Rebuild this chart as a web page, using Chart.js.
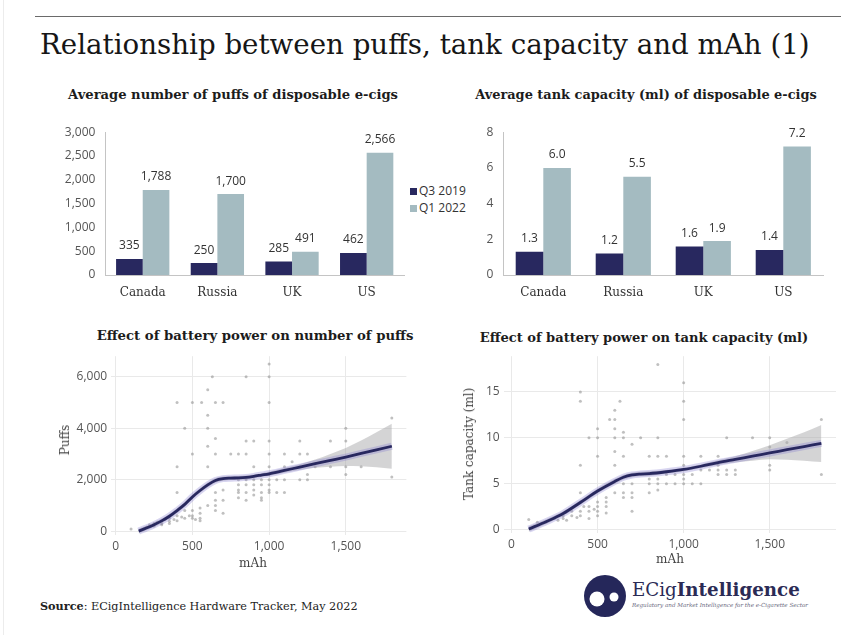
<!DOCTYPE html>
<html>
<head>
<meta charset="utf-8">
<script src="https://cdn.jsdelivr.net/npm/chart.js@4.4.1/dist/chart.umd.min.js"></script>
<style>
  html, body { margin: 0; padding: 0; background: #fff; }
  body { width: 841px; height: 635px; position: relative; overflow: hidden; font-family: "DejaVu Serif", serif; color: #222; }
  canvas { position: absolute; }
  .txt { position: absolute; white-space: nowrap; line-height: 1; }
  .c { transform: translate(-50%, -50%); }
  .l { transform: translate(0, -50%); }
  .rot { transform: translate(-50%, -50%) rotate(-90deg); }
  .rule { position: absolute; left: 35px; top: 16px; width: 806px; height: 0; border-top: 1.5px solid #6a6a6a; }
  .edge { position: absolute; left: 3px; top: 0; width: 0; height: 635px; border-left: 1px solid #ececec; }
  .key { position: absolute; width: 7px; height: 7px; }
</style>
</head>
<body>
<div class="edge"></div>
<div class="rule"></div>

<div id="mainTitle" class="txt l" data-w="770" style="left:40px; top:45px; font-size:30px; color:#161616;">Relationship between puffs, tank capacity and mAh (1)</div>

<div class="txt c" data-w="330" style="left:233px; top:95px; font-size:13px; font-weight:bold; color:#1c1c1c;">Average number of puffs of disposable e-cigs</div>
<div class="txt c" data-w="342" style="left:646px; top:95px; font-size:13px; font-weight:bold; color:#1c1c1c;">Average tank capacity (ml) of disposable e-cigs</div>
<div class="txt c" data-w="317" style="left:255px; top:336px; font-size:13px; font-weight:bold; color:#1c1c1c;">Effect of battery power on number of puffs</div>
<div class="txt c" data-w="329" style="left:644px; top:338px; font-size:13px; font-weight:bold; color:#1c1c1c;">Effect of battery power on tank capacity (ml)</div>

<!-- legend shared by the two bar charts -->
<div id="legend"></div>

<canvas id="puffBars" width="370" height="195" style="left:40px; top:115px;"></canvas>
<canvas id="tankBars" width="395" height="195" style="left:440px; top:115px;"></canvas>
<canvas id="puffScatter" width="380" height="225" style="left:40px; top:345px;"></canvas>
<canvas id="tankScatter" width="400" height="225" style="left:440px; top:345px;"></canvas>

<div class="txt c" style="left:253px; top:563px; font-size:12px; color:#444;">mAh</div>
<div class="txt c" style="left:670px; top:559px; font-size:12px; color:#444;">mAh</div>
<div class="txt rot" style="left:65px; top:440px; font-size:12px; color:#444;">Puffs</div>
<div class="txt rot" style="left:469px; top:444px; font-size:12px; color:#444;">Tank capacity (ml)</div>

<div class="txt l" data-w="318" style="left:40px; top:607px; font-size:11px; color:#222;"><b>Source</b>: ECigIntelligence Hardware Tracker, May 2022</div>

<svg style="position:absolute; left:580px; top:570px;" width="52" height="52" viewBox="0 0 52 52">
  <circle cx="25" cy="26" r="21" fill="#25275a"/>
  <circle cx="17" cy="29" r="7.5" fill="#fff"/>
  <circle cx="34" cy="27" r="4.5" fill="#fff"/>
</svg>
<div class="txt l" data-w="168" style="left:632px; top:590px; font-size:17px; color:#2b2b55;">ECig<b>Intelligence</b></div>
<div class="txt l" data-w="176" style="left:632px; top:606px; font-size:6px; font-style:italic; color:#6a6a80;">Regulatory and Market Intelligence for the e-Cigarette Sector</div>

<script>
// ---- bar chart data ----
const countries = ['Canada', 'Russia', 'UK', 'US'];
const seriesNames = ['Q3 2019', 'Q1 2022'];
const puffsQ3_2019 = [335, 250, 285, 462];
const puffsQ1_2022 = [1788, 1700, 491, 2566];
const tankQ3_2019 = [1.3, 1.2, 1.6, 1.4];
const tankQ1_2022 = [6.0, 5.5, 1.9, 7.2];

// ---- tick values ----
const puffBarTicks = [0, 500, 1000, 1500, 2000, 2500, 3000];
const tankBarTicks = [0, 2, 4, 6, 8];
const mahTicks = [0, 500, 1000, 1500];
const puffTicks = [0, 2000, 4000, 6000];
const tankTicks = [0, 5, 10, 15];

// ---- scatter data: [mAh, puffs] ----
const puffPoints = [
  [100,80],[200,150],[220,250],[250,300],[250,200],[270,350],[300,400],[300,300],[300,250],[320,450],
  [350,500],[350,380],[350,300],[380,450],[400,600],[400,400],[400,1500],[400,2500],[400,5000],[430,550],
  [450,800],[450,500],[450,4000],[480,600],[500,800],[500,500],[500,600],[500,3000],[500,5000],[520,450],
  [550,900],[550,700],[550,500],[550,400],[560,5000],[600,1000],[600,2500],[600,3300],[600,4000],[600,4500],
  [600,5500],[630,6000],[650,1500],[650,1200],[650,1000],[650,800],[650,3000],[650,3600],[650,5000],
  [700,1600],[700,1200],[700,700],[700,5000],[750,3000],[800,3000],[800,2000],[800,1800],[800,1600],
  [800,1500],[800,1300],[850,6000],[850,3500],[850,3000],[850,2000],[850,1800],[850,1500],[850,1200],
  [900,3500],[900,2500],[900,2000],[900,1800],[900,1600],[900,1400],[950,2000],[950,1800],[950,1500],
  [950,1300],[950,1200],[1000,6500],[1000,6000],[1000,5000],[1000,3500],[1000,3000],[1000,2500],
  [1000,2200],[1000,2000],[1000,1800],[1000,1600],[1000,1500],[1050,2000],[1050,1500],[1100,3000],
  [1100,2500],[1100,2000],[1100,1500],[1150,2700],[1200,3500],[1200,3000],[1200,2500],[1200,2000],
  [1250,3000],[1250,2200],[1250,2000],[1300,2500],[1400,3500],[1400,2500],[1500,4000],[1500,3500],
  [1500,2500],[1500,2200],[1600,2500],[1800,4400],[1800,2100]
];
// ---- scatter data: [mAh, tank ml] ----
const tankPoints = [
  [100,1.1],[150,0.8],[200,0.8],[250,1.2],[270,1.0],[300,1.5],[300,1.2],[320,1.0],[350,2.0],[350,1.5],
  [380,1.3],[400,3.0],[400,2.0],[400,1.5],[400,4.0],[400,7.0],[400,14.0],[400,15.0],[420,2.5],[450,2.5],
  [450,2.0],[450,1.2],[450,10.0],[480,2.2],[500,3.0],[500,2.5],[500,2.0],[500,1.5],[500,8.0],[500,10.0],
  [500,11.0],[550,3.5],[550,3.0],[550,2.5],[550,1.8],[570,12.0],[600,4.0],[600,7.0],[600,8.5],[600,10.0],
  [600,11.0],[600,12.0],[600,13.0],[630,14.0],[650,3.5],[650,4.0],[650,5.0],[650,8.0],[650,10.0],
  [650,10.6],[700,2.0],[700,3.5],[700,4.0],[700,5.0],[700,9.3],[750,10.0],[800,4.0],[800,5.0],[800,5.5],
  [800,8.0],[850,4.3],[850,5.0],[850,5.5],[850,8.0],[850,10.0],[850,18.0],[900,5.0],[900,6.0],[900,8.0],
  [950,5.0],[950,6.0],[1000,5.0],[1000,5.5],[1000,6.0],[1000,7.0],[1000,8.0],[1000,12.0],[1000,14.0],
  [1000,16.0],[1050,5.0],[1050,6.0],[1100,5.0],[1100,6.5],[1100,8.0],[1150,6.5],[1200,6.0],[1200,6.5],
  [1200,7.0],[1200,8.0],[1250,6.0],[1250,6.5],[1250,10.0],[1300,6.0],[1300,6.5],[1400,10.0],[1500,6.5],
  [1500,7.0],[1500,9.0],[1500,10.0],[1600,9.5],[1800,12.0],[1800,6.0]
];

// ---- smoothed trend with its confidence band ----
const puffFitMah   = [150,200,250,300,350,400,450,500,550,600,650,700,750,800,850,900,950,1000,1100,1200,1300,1400,1500,1600,1700,1800];
const puffFit      = [0,120,250,400,580,800,1040,1330,1580,1800,1970,2040,2060,2070,2090,2130,2180,2230,2360,2490,2620,2750,2880,3020,3160,3300];
const puffFitUpper = [90,210,340,490,670,890,1130,1420,1670,1890,2060,2120,2130,2140,2160,2200,2250,2310,2450,2600,2780,3000,3230,3520,3840,4170];
const puffFitLower = [-90,30,160,310,490,710,950,1240,1490,1710,1880,1960,1990,2000,2020,2060,2110,2150,2270,2380,2460,2500,2530,2520,2480,2430];

const tankFitMah   = [100,200,300,400,500,600,650,700,750,800,900,1000,1100,1200,1300,1400,1500,1600,1700,1800];
const tankFit      = [0.05,0.85,1.75,2.95,4.2,5.25,5.7,5.95,6.05,6.1,6.3,6.55,6.9,7.3,7.65,8.0,8.35,8.7,9.05,9.4];
const tankFitUpper = [0.35,1.1,2.0,3.2,4.45,5.5,5.95,6.2,6.3,6.35,6.5,6.75,7.1,7.55,8.0,8.55,9.2,9.9,10.6,11.4];
const tankFitLower = [-0.25,0.6,1.5,2.7,3.95,5.0,5.45,5.7,5.8,5.85,6.1,6.35,6.7,7.05,7.3,7.5,7.65,7.6,7.5,7.35];

// ---- palette ----
const NAVY = '#28285f';
const SLATE = '#a4bbc1';
const DOT = 'rgba(140,140,140,0.55)';
const BAND = 'rgba(170,170,172,0.5)';
const HALO = 'rgba(125,115,205,0.3)';
const GRID = '#e9e9e9';
const SANS = '"Open Sans", "DejaVu Sans", sans-serif';
const SERIF = '"DejaVu Serif", serif';

// fit HTML text elements to their intended width
document.querySelectorAll('[data-w]').forEach(el => {
  const target = parseFloat(el.dataset.w);
  const w = el.getBoundingClientRect().width;
  const fs = parseFloat(getComputedStyle(el).fontSize);
  el.style.fontSize = (fs * target / w) + 'px';
});

// legend
(function () {
  const lg = document.getElementById('legend');
  [[NAVY, 191], [SLATE, 208]].forEach(([col, y], i) => {
    const k = document.createElement('div');
    k.className = 'key';
    k.style.left = '410px'; k.style.top = (y - 3.5) + 'px'; k.style.background = col;
    lg.appendChild(k);
    const t = document.createElement('div');
    t.className = 'txt l';
    t.style.cssText = `left:419px; top:${y}px; font-size:12px; color:#333; font-family:${SANS};`;
    t.textContent = seriesNames[i];
    lg.appendChild(t);
  });
})();

Chart.defaults.font.family = SANS;

const fmtComma = v => Number(v).toLocaleString('en-US');
const fixedTicks = vals => function (scale) { scale.ticks = vals.map(v => ({ value: v })); };

function valueLabels(fmt) {
  return {
    id: 'valueLabels',
    afterDatasetsDraw(chart) {
      const ctx = chart.ctx;
      ctx.save();
      ctx.font = '12px ' + SANS;
      ctx.fillStyle = '#333';
      ctx.textAlign = 'center';
      ctx.textBaseline = 'middle';
      chart.data.datasets.forEach((ds, di) => {
        chart.getDatasetMeta(di).data.forEach((bar, i) => {
          ctx.fillText(fmt(ds.data[i]), bar.x, bar.y - 13);
        });
      });
      ctx.restore();
    }
  };
}

function barChart(id, q3, q1, ticks, yFmt, labelFmt, axisW, padRight, padTop, catPct) {
  return new Chart(document.getElementById(id), {
    type: 'bar',
    data: {
      labels: countries,
      datasets: [
        { label: seriesNames[0], data: q3, backgroundColor: NAVY },
        { label: seriesNames[1], data: q1, backgroundColor: SLATE }
      ]
    },
    options: {
      responsive: false, animation: false, devicePixelRatio: 1,
      layout: { padding: { top: padTop, right: padRight, left: 0, bottom: 0 } },
      plugins: { legend: { display: false }, tooltip: { enabled: false } },
      datasets: { bar: { categoryPercentage: catPct, barPercentage: 1 } },
      scales: {
        x: {
          grid: { display: false, drawTicks: false },
          border: { color: '#c4c4c4', width: 1 },
          ticks: { padding: 11, color: '#333', font: { family: SERIF, size: 12 } },
          afterFit(s) { s.height = 35; }
        },
        y: {
          min: ticks[0], max: ticks[ticks.length - 1],
          grid: { display: false, drawTicks: false },
          border: { color: '#c4c4c4', width: 1 },
          afterBuildTicks: fixedTicks(ticks),
          ticks: { padding: 10, color: '#555', font: { size: 12 }, callback: yFmt },
          afterFit(s) { s.width = axisW; }
        }
      }
    },
    plugins: [valueLabels(labelFmt)]
  });
}

barChart('puffBars', puffsQ3_2019, puffsQ1_2022, puffBarTicks, v => fmtComma(v), fmtComma, 65.4, 6, 10, 0.714);
barChart('tankBars', tankQ3_2019, tankQ1_2022, tankBarTicks, v => v, v => v.toFixed(1), 63.3, 11.7, 10.5, 0.69);

const toXY = (xs, ys) => xs.map((x, i) => ({ x: x, y: ys[i] }));

function scatterChart(id, points, fx, fy, fu, fl, xr, yr, yTicks, axisW, axisH, padRight, padTop) {
  const lineBase = { type: 'line', showLine: true, pointRadius: 0, cubicInterpolationMode: 'monotone' };
  return new Chart(document.getElementById(id), {
    type: 'scatter',
    data: {
      datasets: [
        Object.assign({}, lineBase, { data: toXY(fx, fu), borderWidth: 0, borderColor: 'rgba(0,0,0,0)', backgroundColor: BAND, fill: '+1', order: 2 }),
        Object.assign({}, lineBase, { data: toXY(fx, fl), borderWidth: 0, borderColor: 'rgba(0,0,0,0)', fill: false, order: 2 }),
        Object.assign({}, lineBase, { data: toXY(fx, fy), borderWidth: 7, borderColor: HALO, fill: false, order: 1 }),
        Object.assign({}, lineBase, { data: toXY(fx, fy), borderWidth: 2.8, borderColor: NAVY, fill: false, order: 0 }),
        { data: points.map(p => ({ x: p[0], y: p[1] })), pointRadius: 1.5, pointBackgroundColor: DOT, pointBorderWidth: 0, order: 3 }
      ]
    },
    options: {
      responsive: false, animation: false, devicePixelRatio: 1,
      layout: { padding: { top: padTop, right: padRight, left: 0, bottom: 0 } },
      plugins: { legend: { display: false }, tooltip: { enabled: false } },
      scales: {
        x: {
          type: 'linear', min: xr[0], max: xr[1],
          grid: { color: GRID, drawTicks: false },
          border: { display: false },
          afterBuildTicks: fixedTicks(mahTicks),
          ticks: { padding: 4, color: '#555', font: { size: 12 }, callback: v => fmtComma(v) },
          afterFit(s) { s.height = axisH; }
        },
        y: {
          type: 'linear', min: yr[0], max: yr[1],
          grid: { color: GRID, drawTicks: false },
          border: { display: false },
          afterBuildTicks: fixedTicks(yTicks),
          ticks: { padding: 4, color: '#555', font: { size: 12 }, callback: v => fmtComma(v) },
          afterFit(s) { s.width = axisW; }
        }
      }
    }
  });
}

scatterChart('puffScatter', puffPoints, puffFitMah, puffFit, puffFitUpper, puffFitLower,
  [-30, 1895], [-150, 6800], puffTicks, 71.1, 35, 13.6, 5.8);
scatterChart('tankScatter', tankPoints, tankFitMah, tankFit, tankFitUpper, tankFitLower,
  [-46, 1885], [-0.4, 18.9], tankTicks, 63.6, 36.8, 3.9, 10);
</script>
</body>
</html>
